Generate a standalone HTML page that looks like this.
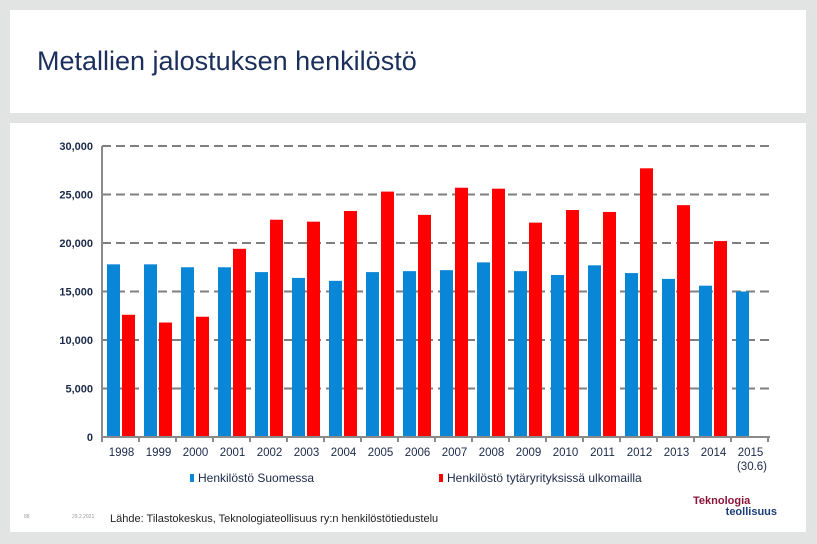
<!DOCTYPE html>
<html><head><meta charset="utf-8"><style>
body{margin:0;width:817px;height:544px;background:#e1e4e3;font-family:"Liberation Sans",sans-serif;overflow:hidden;position:relative}
.p{position:absolute;background:#fff}
</style></head><body>
<div class="p" style="left:10px;top:10px;width:796px;height:103px">
<div style="position:absolute;left:27px;top:36px;font-size:27px;color:#1b2f5c">Metallien jalostuksen henkilöstö</div>
</div>
<div class="p" style="left:10px;top:123px;width:796px;height:409px"></div>
<svg id="c" width="817" height="544" style="position:absolute;left:0;top:0" font-family="Liberation Sans, sans-serif"></svg>
<script>
const years=["1998","1999","2000","2001","2002","2003","2004","2005","2006","2007","2008","2009","2010","2011","2012","2013","2014","2015"];
const finland=[17800,17800,17500,17500,17000,16400,16100,17000,17100,17200,18000,17100,16700,17700,16900,16300,15600,15000];
const abroad=[12600,11800,12400,19400,22400,22200,23300,25300,22900,25700,25600,22100,23400,23200,27700,23900,20200,null];
const yTicks=[0,5000,10000,15000,20000,25000,30000];
const yTickLabels=["0","5,000","10,000","15,000","20,000","25,000","30,000"];
const svg=document.getElementById('c'),NS="http://www.w3.org/2000/svg";
const x0=102,cw=37,yb=437,yt=146;
const y=v=>yb-(v/30000)*(yb-yt);
const xc=i=>x0+i*cw;
function mk(t,a,p){const e=document.createElementNS(NS,t);for(const k in a)e.setAttribute(k,a[k]);(p||svg).appendChild(e);return e;}
yTicks.forEach((v,i)=>{
 if(v>0){const l=mk('line',{x1:x0,x2:770,y1:y(v),y2:y(v),stroke:'#7f7f7f','stroke-width':2,'stroke-dasharray':'9,5'});
 
 }
 const t=mk('text',{x:93,y:y(v)+4,'text-anchor':'end','font-size':11,fill:'#1b2a4a','font-weight':'bold'});t.textContent=yTickLabels[i];
 
 
});
years.forEach((yr,i)=>{
 const b=mk('rect',{x:xc(i)+5,y:y(finland[i]),width:13,height:yb-y(finland[i]),fill:'#0a86d6'});
 
 
 if(abroad[i]!=null){const r=mk('rect',{x:xc(i)+20,y:y(abroad[i]),width:13,height:yb-y(abroad[i]),fill:'#ff0000'});
 
 }
 const t=mk('text',{x:xc(i)+cw/2+1,y:456,'text-anchor':'middle','font-size':11.5,fill:'#1b2a4a'});t.textContent=yr;
 
 
 mk('line',{x1:xc(i),x2:xc(i),y1:yb,y2:yb+5,stroke:'#8a8a8a','stroke-width':2});
});
mk('line',{x1:xc(18),x2:xc(18),y1:yb,y2:yb+5,stroke:'#8a8a8a','stroke-width':2});
const s=mk('text',{x:752,y:470,'text-anchor':'middle','font-size':11.5,fill:'#1b2a4a'});s.textContent="(30.6)";
mk('line',{x1:x0,x2:x0,y1:yt,y2:yb,stroke:'#8a8a8a','stroke-width':2});
mk('line',{x1:x0,x2:770,y1:yb,y2:yb,stroke:'#8a8a8a','stroke-width':2});
</script>
<div style="position:absolute;left:190px;top:471px;font-size:12px;color:#1b2a4a"><span style="display:inline-block;width:4px;height:8px;background:#0a86d6;margin-right:4px"></span>Henkilöstö Suomessa</div>
<div style="position:absolute;left:439px;top:471px;font-size:12px;color:#1b2a4a"><span style="display:inline-block;width:4px;height:8px;background:#ff0000;margin-right:4px"></span>Henkilöstö tytäryrityksissä ulkomailla</div>
<div style="position:absolute;left:110px;top:513px;font-size:11px;color:#222">Lähde: Tilastokeskus, Teknologiateollisuus ry:n henkilöstötiedustelu</div>
<div style="position:absolute;left:24px;top:514px;font-size:5px;color:#999">88</div>
<div style="position:absolute;left:72px;top:514px;font-size:5px;color:#999">29.2.2021</div>
<div style="position:absolute;left:690px;top:496px;font-size:11px;font-weight:bold;line-height:11px;text-align:right;width:87px"><div style="color:#8b1538;text-align:left;padding-left:3px">Teknologia</div><div style="color:#1b3f7a">teollisuus</div></div>
</body></html>
